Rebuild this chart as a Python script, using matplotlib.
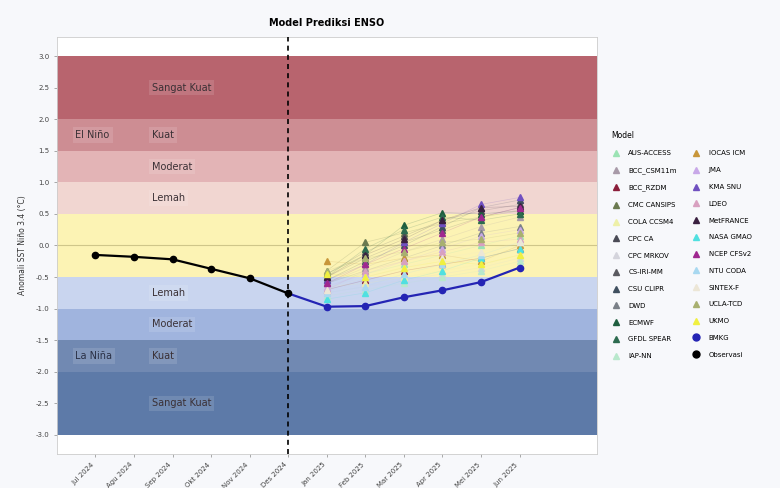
import numpy as np
import matplotlib.pyplot as plt
from matplotlib.lines import Line2D

# ---- data ----
bulan = ["Jul 2024", "Agu 2024", "Sep 2024", "Okt 2024", "Nov 2024", "Des 2024",
         "Jan 2025", "Feb 2025", "Mar 2025", "Apr 2025", "Mei 2025", "Jun 2025"]
observasi = [-0.15, -0.18, -0.22, -0.37, -0.52, -0.76]
bmkg = [-0.97, -0.96, -0.82, -0.71, -0.58, -0.35]

model_names = ["AUS-ACCESS", "BCC_CSM11m", "BCC_RZDM", "CMC CANSIPS", "COLA CCSM4",
               "CPC CA", "CPC MRKOV", "CS-IRI-MM", "CSU CLIPR", "DWD", "ECMWF",
               "GFDL SPEAR", "IAP-NN", "IOCAS ICM", "JMA", "KMA SNU", "LDEO",
               "MetFRANCE", "NASA GMAO", "NCEP CFSv2", "NTU CODA", "SINTEX-F",
               "UCLA-TCD", "UKMO"]
model_vals = [
    [-0.55, -0.45, -0.30, -0.15, 0.00, 0.15],
    [-0.60, -0.35, -0.10, 0.10, 0.30, 0.45],
    [-0.70, -0.55, -0.40, -0.30, -0.20, -0.05],
    [-0.40, 0.05, 0.20, 0.35, 0.45, 0.55],
    [-0.65, -0.60, -0.50, -0.40, -0.30, -0.15],
    [-0.45, -0.10, 0.15, 0.40, 0.55, 0.65],
    [-0.75, -0.65, -0.55, -0.45, -0.35, -0.20],
    [-0.50, -0.20, 0.05, 0.25, 0.45, 0.60],
    [-0.55, -0.25, 0.00, 0.30, 0.60, 0.72],
    [-0.60, -0.40, -0.20, 0.00, 0.20, 0.30],
    [-0.45, -0.15, 0.32, 0.52, 0.50, 0.55],
    [-0.50, -0.05, 0.25, 0.45, 0.40, 0.50],
    [-0.80, -0.70, -0.60, -0.50, -0.40, -0.25],
    [-0.25, -0.30, -0.20, -0.15, -0.25, 0.00],
    [-0.65, -0.45, -0.25, -0.05, 0.15, 0.25],
    [-0.55, -0.30, 0.05, 0.35, 0.65, 0.76],
    [-0.70, -0.40, -0.25, -0.10, 0.05, 0.10],
    [-0.50, -0.15, 0.10, 0.40, 0.60, 0.62],
    [-0.85, -0.75, -0.55, -0.40, -0.20, -0.05],
    [-0.60, -0.30, -0.05, 0.20, 0.45, 0.60],
    [-0.75, -0.65, -0.45, -0.30, -0.15, 0.05],
    [-0.70, -0.50, -0.35, -0.20, -0.10, 0.05],
    [-0.40, -0.20, -0.10, 0.05, 0.10, 0.20],
    [-0.45, -0.50, -0.35, -0.25, -0.30, -0.15],
]
model_colors = ["#9be3b4", "#a89aa8", "#8b1e3a", "#6b7a50", "#eef0a8", "#4a4a55",
                "#d4d4dc", "#5a5a60", "#3f4f5f", "#7a8088", "#1f5f3f", "#2d6b4f",
                "#b8e8cc", "#c8963a", "#c8a8e8", "#7050c0", "#d8a0c0", "#3a2040",
                "#50e0e0", "#a02890", "#a8d8f0", "#ece6d6", "#a8b070", "#f0f040"]

# ENSO intensity bands: (lower, upper, color)
bands = [(2.0, 3.0, "#b8646e"), (1.5, 2.0, "#cd8d93"), (1.0, 1.5, "#e3b4b6"),
         (0.5, 1.0, "#f1d6d1"), (-0.5, 0.5, "#fcf3b4"), (-1.0, -0.5, "#c9d5ef"),
         (-1.5, -1.0, "#a0b4de"), (-2.0, -1.5, "#7189b2"), (-3.0, -2.0, "#5d7aa8")]
band_text = [(2.5, "Sangat Kuat"), (1.75, "Kuat"), (1.25, "Moderat"), (0.75, "Lemah"),
             (-0.75, "Lemah"), (-1.25, "Moderat"), (-1.75, "Kuat"), (-2.5, "Sangat Kuat")]

fig = plt.figure(figsize=(7.8, 4.88), dpi=100, facecolor="#f7f8fb")
ax = fig.add_axes([0.073, 0.07, 0.692, 0.854])
ax.set_facecolor("white")

for lo, hi, c in bands:
    ax.axhspan(lo, hi, color=c, lw=0, zorder=0)
ax.axhline(0, color="#cfc68a", lw=0.8, zorder=1)

box = dict(facecolor="white", alpha=0.12, edgecolor="none", pad=2)
for y, s in band_text:
    ax.text(1.47, y, s, fontsize=7, color="#3a3035", va="center", ha="left", bbox=box, zorder=2)
ax.text(-0.52, 1.75, "El Niño", fontsize=7, color="#3a3035", va="center", ha="left", bbox=box, zorder=2)
ax.text(-0.52, -1.75, "La Niña", fontsize=7, color="#2a3045", va="center", ha="left", bbox=box, zorder=2)

x = np.arange(len(bulan))
xf = x[6:]

handles = []
for name, vals, c in zip(model_names, model_vals, model_colors):
    ax.plot(xf, vals, color=c, lw=0.5, alpha=0.2, zorder=3)
    ax.plot(xf, vals, ls="none", marker="^", ms=4, color=c, mec=c, zorder=4)
    handles.append(Line2D([], [], ls="none", marker="^", ms=4, color=c, label=name))

ax.plot(x[5:], [observasi[-1]] + bmkg, color="#2424b4", lw=1.6, zorder=5)
ax.plot(xf, bmkg, ls="none", marker="o", ms=4.5, color="#2424b4", zorder=6)
ax.plot(x[:6], observasi, color="black", lw=1.6, marker="o", ms=4.5, zorder=7)
handles.append(Line2D([], [], ls="none", marker="o", ms=5, color="#2424b4", label="BMKG"))
handles.append(Line2D([], [], ls="none", marker="o", ms=5, color="black", label="Observasi"))

ax.axvline(5, color="black", lw=1.2, ls=(0, (3, 2.5)), zorder=8)

ax.set_xlim(-1, 13)
ax.set_ylim(-3.3, 3.3)
ax.set_xticks(x)
ax.set_xticklabels(bulan, rotation=45, ha="right", fontsize=5, color="#444444")
yt = np.arange(-3.0, 3.01, 0.5)
ax.set_yticks(yt)
ax.set_yticklabels([f"{v:.1f}" for v in yt], fontsize=5, color="#444444")
ax.tick_params(length=2, width=0.5, colors="#888888", labelcolor="#444444")
for sp in ax.spines.values():
    sp.set_color("#cccccc")
    sp.set_linewidth(0.6)

ax.set_ylabel("Anomali SST Niño 3.4 (°C)", fontsize=5.5, color="#333333", labelpad=6)
ax.set_title("Model Prediksi ENSO", fontsize=7, fontweight="bold", pad=8)

fig.legend(handles=handles, loc="upper left", bbox_to_anchor=(0.776, 0.745), ncol=2,
           fontsize=5, title="Model", title_fontsize=5.5, frameon=False,
           labelspacing=1.55, handlelength=1.2, handletextpad=1.2,
           columnspacing=2.2, alignment="left")

fig.savefig("out.png", dpi=100, facecolor=fig.get_facecolor())
